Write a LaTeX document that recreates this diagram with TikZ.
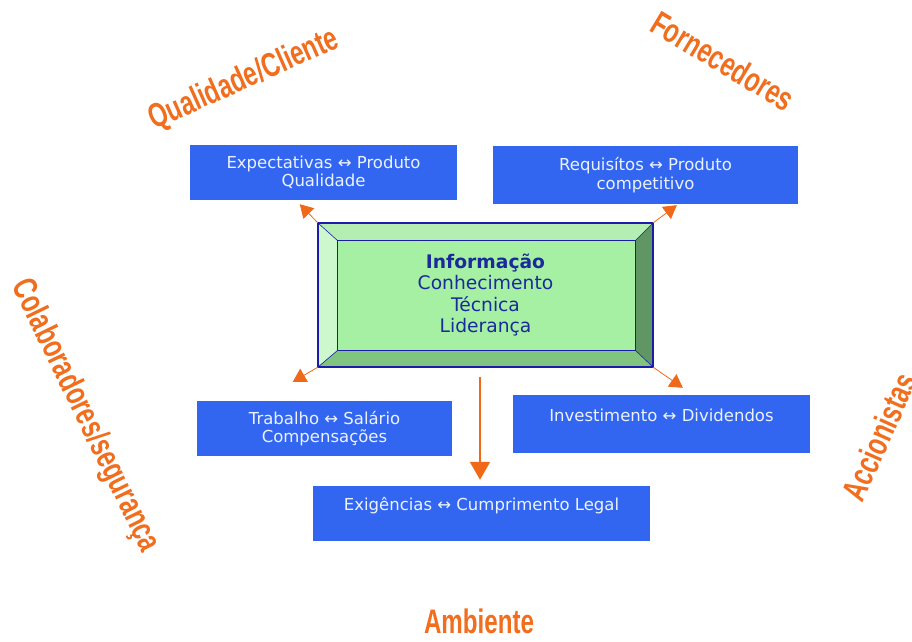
\documentclass[tikz,border=0pt]{standalone}
\usepackage{fontspec}
\setmainfont{DejaVu Sans}
\newfontfamily\tagfont[FakeStretch=0.71]{Liberation Sans Bold}
\usetikzlibrary{arrows.meta,backgrounds}

\definecolor{boxblue}{RGB}{51,102,240}
\definecolor{boxtext}{RGB}{235,242,255}
\definecolor{tagorange}{RGB}{240,110,30}
\definecolor{arrorange}{RGB}{240,105,25}
\definecolor{infoface}{RGB}{166,240,164}
\definecolor{bevtop}{RGB}{180,238,178}
\definecolor{bevleft}{RGB}{205,248,205}
\definecolor{bevright}{RGB}{96,150,100}
\definecolor{bevbottom}{RGB}{128,196,128}
\definecolor{infoline}{RGB}{28,28,170}
\definecolor{infotext}{RGB}{27,42,155}

\tikzset{
  item/.style={fill=boxblue, text=boxtext, align=center, inner sep=0pt,
    font=\fontsize{16.5}{18.5}\selectfont},
  info/.style={minimum width=335pt, minimum height=144pt, inner sep=0pt,
    align=center, text=infotext, font=\fontsize{18.7}{21.5}\selectfont},
  tag/.style={text=tagorange, inner sep=0pt, font=\tagfont\fontsize{34}{40}\selectfont},
  link/.style={draw=arrorange, line width=0.8pt, -{Triangle[width=15pt,length=13pt]}},
}

\begin{document}
\begin{tikzpicture}[x=1pt,y=-1pt]
\useasboundingbox (0,0) rectangle (912,641);

\node[info] (info) at (485.5,295) {\textbf{Informação}\\Conhecimento\\Técnica\\Liderança};
\node[item, minimum width=267pt, minimum height=55pt] (expec) at (323.5,172.5)
  {Expectativas ↔ Produto\\Qualidade};
\node[item, minimum width=305pt, minimum height=58pt] (requis) at (645.5,175)
  {Requisítos ↔ Produto\\competitivo};
\node[item, minimum width=255pt, minimum height=55pt] (trab) at (324.5,428.5)
  {Trabalho ↔ Salário\\Compensações};
\node[item, minimum width=297pt, minimum height=58pt] (invest) at (661.5,424)
  {Investimento ↔ Dividendos\\\mbox{}};
\node[item, minimum width=337pt, minimum height=55pt] (exig) at (481.5,513.5)
  {Exigências ↔ Cumprimento Legal\\\mbox{}};

\node[tag, rotate=24] (qual) at (244,80) {Qualidade/Cliente};
\node[tag, rotate=-31] (forn) at (723,61) {Fornecedores};
\node[tag, rotate=-64] (colab) at (85,416) {Colaboradores/segurança};
\node[tag, rotate=66] (accion) at (879,437) {Accionistas};
\node[tag] (amb) at (479,621) {Ambiente};

\coordinate (iNW) at ([xshift=20pt,yshift=-18pt]info.north west);
\coordinate (iNE) at ([xshift=-18pt,yshift=-18pt]info.north east);
\coordinate (iSE) at ([xshift=-18pt,yshift=17pt]info.south east);
\coordinate (iSW) at ([xshift=20pt,yshift=17pt]info.south west);

\begin{scope}[on background layer]
\fill[white] (0,0) rectangle (912,641);
\fill[infoface] (iNW) rectangle (iSE);
\fill[bevtop] (info.north west) -- (info.north east) -- (iNE) -- (iNW) -- cycle;
\fill[bevleft] (info.north west) -- (iNW) -- (iSW) -- (info.south west) -- cycle;
\fill[bevright] (info.north east) -- (info.south east) -- (iSE) -- (iNE) -- cycle;
\fill[bevbottom] (info.south west) -- (iSW) -- (iSE) -- (info.south east) -- cycle;
\draw[infoline, line width=1.5pt] (info.north west) rectangle (info.south east);
\draw[infoline, line width=1.2pt] (iNW) rectangle (iSE);
\draw[infoline, line width=0.6pt] (info.north west) -- (iNW) (info.north east) -- (iNE)
  (info.south east) -- (iSE) (info.south west) -- (iSW);
\end{scope}

\coordinate (tipExp) at ([xshift=110pt,yshift=-4pt]expec.south west);
\coordinate (tipReq) at ([xshift=184pt,yshift=-1pt]requis.south west);
\coordinate (tipTrab) at ([xshift=96pt,yshift=19pt]trab.north west);
\coordinate (tipInv) at ([xshift=170pt,yshift=7pt]invest.north west);
\coordinate (down) at ([xshift=-5.5pt,yshift=-10pt]info.south);
\coordinate (tipExig) at ([xshift=-1.5pt,yshift=6pt]exig.north);

\draw[link] (info.north west) -- (tipExp);
\draw[link] (info.north east) -- (tipReq);
\draw[link] (info.south west) -- (tipTrab);
\draw[link] (info.south east) -- (tipInv);
\draw[link, line width=1.8pt, -{Triangle[width=20pt,length=18pt]}] (down) -- (tipExig);
\end{tikzpicture}
\end{document}
